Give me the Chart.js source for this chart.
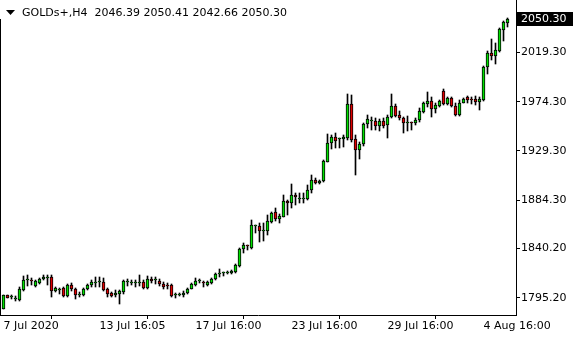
<!DOCTYPE html>
<html>
<head>
<meta charset="utf-8">
<script src="https://cdn.jsdelivr.net/npm/chart.js@4.4.1/dist/chart.umd.min.js"></script>
<style>
  html, body { margin: 0; padding: 0; background: #fff; }
</style>
</head>
<body>
<canvas id="grafico" width="580" height="340"></canvas>
<script>
const simbolo = 'GOLDs+,H4';

// candles H4 (indice 0 = 7 Jul 2020)
const aberturas = [
  1785.2, 1797.3, 1795.8, 1794.3, 1792.8, 1801.9, 1811.0, 1810.6, 1806.0, 1808.9,
  1812.0, 1813.2, 1814.1, 1801.6, 1802.0, 1804.0, 1796.4, 1807.1, 1803.4, 1797.3,
  1798.0, 1803.4, 1806.5, 1809.0, 1809.5, 1809.5, 1803.4, 1799.8, 1797.3, 1798.9,
  1800.4, 1809.5, 1809.0, 1809.0, 1809.0, 1809.5, 1804.0, 1812.6, 1811.0, 1810.1,
  1808.0, 1806.5, 1807.1, 1798.0, 1798.0, 1797.3, 1799.8, 1803.4, 1807.1, 1810.7,
  1808.4, 1807.1, 1808.9, 1812.0, 1816.6, 1817.5, 1818.0, 1817.5, 1819.0, 1824.2,
  1839.4, 1843.0, 1840.3, 1861.0, 1860.7, 1856.4, 1855.9, 1864.7, 1873.5, 1866.8,
  1869.3, 1883.9, 1881.5, 1889.4, 1885.1, 1885.1, 1885.1, 1893.6, 1902.8, 1900.3,
  1902.2, 1919.5, 1936.3, 1941.8, 1939.9, 1939.9, 1940.9, 1971.9, 1940.2, 1930.2,
  1935.4, 1953.7, 1956.7, 1956.7, 1952.4, 1956.7, 1953.0, 1960.0, 1970.4, 1962.2,
  1959.1, 1955.0, 1955.5, 1954.6, 1957.6, 1965.2, 1972.2, 1975.3, 1967.4, 1970.7,
  1984.4, 1972.2, 1977.4, 1970.7, 1962.2, 1973.5, 1978.3, 1976.5, 1976.8, 1974.4,
  1975.9, 2005.7, 2019.1, 2016.1, 2021.0, 2039.9, 2046.39
];
const maximas = [
  1797.8, 1798.0, 1797.3, 1796.4, 1805.0, 1815.0, 1816.2, 1813.2, 1811.0, 1813.0,
  1816.0, 1815.6, 1815.6, 1805.0, 1804.0, 1805.0, 1808.0, 1809.0, 1804.0, 1800.0,
  1804.0, 1808.0, 1811.0, 1814.0, 1814.0, 1813.0, 1804.5, 1800.5, 1802.0, 1802.0,
  1811.0, 1812.0, 1811.5, 1811.5, 1815.6, 1811.0, 1815.0, 1814.5, 1814.0, 1812.0,
  1810.0, 1809.0, 1808.0, 1799.8, 1799.5, 1801.0, 1804.0, 1809.0, 1813.0, 1812.5,
  1810.8, 1810.5, 1813.0, 1818.0, 1821.1, 1819.0, 1819.3, 1820.5, 1826.0, 1841.0,
  1844.9, 1843.5, 1866.2, 1861.5, 1863.2, 1863.8, 1870.8, 1873.8, 1876.9, 1871.7,
  1889.1, 1884.5, 1899.1, 1890.5, 1890.6, 1890.6, 1898.2, 1907.4, 1904.3, 1903.0,
  1921.0, 1944.5, 1943.9, 1945.4, 1940.9, 1943.9, 1981.1, 1980.5, 1943.9, 1937.8,
  1954.6, 1962.2, 1960.7, 1959.1, 1958.5, 1959.1, 1962.2, 1981.1, 1972.2, 1965.8,
  1960.0, 1961.0, 1956.2, 1959.0, 1968.3, 1974.4, 1983.5, 1978.3, 1973.5, 1975.9,
  1985.6, 1978.3, 1978.3, 1972.8, 1975.9, 1977.4, 1979.5, 1978.3, 1979.5, 1978.3,
  2007.0, 2021.0, 2031.3, 2028.3, 2041.4, 2048.4, 2050.41
];
const minimas = [
  1784.5, 1794.5, 1793.7, 1792.2, 1791.9, 1801.0, 1805.9, 1806.5, 1805.0, 1808.0,
  1811.0, 1807.1, 1795.8, 1800.0, 1798.9, 1796.0, 1796.0, 1801.0, 1794.3, 1796.0,
  1797.0, 1802.0, 1805.0, 1805.0, 1805.0, 1801.0, 1795.8, 1795.5, 1796.0, 1789.7,
  1799.0, 1806.0, 1806.5, 1805.0, 1806.0, 1803.0, 1803.0, 1809.0, 1808.0, 1806.0,
  1803.0, 1803.0, 1796.0, 1794.9, 1796.5, 1796.0, 1799.0, 1803.0, 1806.0, 1809.0,
  1805.3, 1806.0, 1808.0, 1811.0, 1814.4, 1815.3, 1816.6, 1816.5, 1818.0, 1823.0,
  1835.8, 1838.8, 1840.0, 1854.6, 1846.4, 1847.3, 1852.5, 1863.2, 1865.6, 1863.8,
  1869.0, 1870.8, 1876.9, 1879.9, 1881.5, 1881.5, 1884.5, 1891.0, 1898.8, 1899.5,
  1901.3, 1918.9, 1931.1, 1931.7, 1931.7, 1933.0, 1939.3, 1937.8, 1907.4, 1922.0,
  1934.2, 1950.0, 1948.5, 1948.5, 1947.6, 1950.0, 1941.5, 1959.1, 1960.0, 1957.6,
  1945.4, 1948.0, 1948.5, 1953.0, 1956.0, 1964.0, 1969.8, 1960.0, 1963.7, 1969.8,
  1971.3, 1971.3, 1969.2, 1961.3, 1961.3, 1972.8, 1972.8, 1972.2, 1971.3, 1966.8,
  1975.3, 1999.6, 2012.4, 2008.8, 2020.0, 2030.1, 2042.66
];
const fechamentos = [
  1797.3, 1794.9, 1796.0, 1794.5, 1803.4, 1811.0, 1811.5, 1810.3, 1810.1, 1812.0,
  1814.1, 1813.4, 1801.0, 1804.0, 1802.2, 1796.4, 1807.1, 1802.8, 1798.0, 1798.9,
  1802.8, 1807.1, 1809.5, 1809.2, 1809.7, 1801.9, 1798.9, 1796.7, 1799.8, 1801.3,
  1810.4, 1809.8, 1809.2, 1809.2, 1809.2, 1804.0, 1812.6, 1810.1, 1811.2, 1808.0,
  1805.0, 1805.5, 1796.7, 1798.2, 1798.2, 1799.8, 1803.4, 1807.7, 1810.7, 1811.2,
  1808.2, 1809.3, 1812.3, 1816.9, 1816.7, 1817.6, 1818.2, 1819.6, 1825.1, 1839.7,
  1843.4, 1842.6, 1861.6, 1861.2, 1856.5, 1856.6, 1865.3, 1872.3, 1866.8, 1869.9,
  1883.6, 1881.5, 1889.1, 1886.9, 1885.3, 1885.3, 1893.6, 1902.8, 1900.3, 1902.2,
  1920.1, 1936.3, 1941.8, 1938.7, 1940.0, 1942.1, 1971.9, 1939.3, 1930.2, 1935.4,
  1953.7, 1958.2, 1956.8, 1952.4, 1956.7, 1952.4, 1960.0, 1970.4, 1961.6, 1959.1,
  1954.6, 1956.0, 1955.2, 1957.6, 1965.8, 1972.8, 1975.3, 1967.4, 1971.3, 1975.3,
  1972.2, 1977.4, 1970.4, 1962.2, 1973.5, 1976.8, 1975.9, 1976.3, 1974.4, 1976.5,
  2006.4, 2019.1, 2016.1, 2021.6, 2040.8, 2046.9, 2050.30
];

const xTicksIndice = [0, 24, 48, 72, 96, 120];
const xTicksTexto = ['7 Jul 2020', '13 Jul 16:05', '17 Jul 16:00', '23 Jul 16:00', '29 Jul 16:00', '4 Aug 16:00'];
const yTicks = [1795.20, 1840.20, 1884.30, 1929.30, 1974.30, 2019.30];

const VERDE = '#00e000';
const VERMELHO = '#e00000';
const fonte = { family: 'DejaVu Sans', size: 11 };

const corpos = aberturas.map((o, i) => ({ x: i, y: [o, fechamentos[i]] }));
const pavios = maximas.map((h, i) => ({ x: i, y: [minimas[i], h] }));
const coresCorpo = aberturas.map((o, i) => fechamentos[i] >= o ? VERDE : VERMELHO);

// deixa os retangulos das barras no pixel inteiro, como no terminal
const arredondar = {
    id: 'arredondar',
    beforeDatasetsDraw(chart) {
        chart.data.datasets.forEach((ds, k) => {
            chart.getDatasetMeta(k).data.forEach(el => {
                el.y = Math.round(el.y);
                el.base = Math.round(el.base);
            });
        });
    }
};

const cabecalho = {
    id: 'cabecalho',
    afterDraw(chart) {
        const ctx = chart.ctx;
        const area = chart.chartArea;
        const n = fechamentos.length - 1;
        ctx.save();

        ctx.strokeStyle = '#000';
        ctx.lineWidth = 1;
        ctx.beginPath();
        ctx.moveTo(area.left + 0.5, 19);
        ctx.lineTo(area.left + 0.5, area.bottom);
        ctx.stroke();

        ctx.fillStyle = '#000';
        ctx.beginPath();
        ctx.moveTo(6, 10);
        ctx.lineTo(15, 10);
        ctx.lineTo(10.5, 15);
        ctx.closePath();
        ctx.fill();

        ctx.font = '11px "DejaVu Sans"';
        ctx.textBaseline = 'middle';
        const txt = simbolo + '  ' + [aberturas[n], maximas[n], minimas[n], fechamentos[n]].map(v => v.toFixed(2)).join(' ');
        ctx.fillText(txt, 22, 13);

        // etiqueta do preco atual
        const py = Math.round(chart.scales.y.getPixelForValue(fechamentos[n]));
        ctx.fillRect(area.right + 1, py - 7, 56, 14);
        ctx.fillStyle = '#fff';
        ctx.fillText(fechamentos[n].toFixed(2), area.right + 5, py + 0.5);
        ctx.restore();
    }
};

new Chart(document.getElementById('grafico').getContext('2d'), {
    type: 'bar',
    data: {
        datasets: [
            {
                data: corpos,
                backgroundColor: coresCorpo,
                borderColor: '#000',
                borderWidth: 1,
                borderSkipped: false,
                barThickness: 3,
                minBarLength: 1,
                grouped: false
            },
            {
                data: pavios,
                backgroundColor: '#000',
                borderWidth: 0,
                barThickness: 1,
                grouped: false
            }
        ]
    },
    options: {
        responsive: false,
        animation: false,
        layout: { padding: 0 },
        plugins: {
            legend: { display: false },
            tooltip: { enabled: false },
            title: { display: false }
        },
        scales: {
            x: {
                type: 'linear',
                min: -0.875,
                max: 128.125,
                offset: false,
                afterBuildTicks: s => { s.ticks = xTicksIndice.map(v => ({ value: v })); },
                afterFit: s => { s.height = 25; s.paddingLeft = 0; s.paddingRight = 0; },
                ticks: {
                    autoSkip: false,
                    maxRotation: 0,
                    align: 'start',
                    padding: 1,
                    color: '#000',
                    font: fonte,
                    callback: (v, i) => xTicksTexto[i]
                },
                grid: { drawOnChartArea: false, drawTicks: true, tickLength: 4, color: '#000' },
                border: { display: true, color: '#000', width: 1 }
            },
            y: {
                position: 'right',
                min: 1779.39,
                max: 2067.27,
                afterBuildTicks: s => { s.ticks = yTicks.map(v => ({ value: v })); },
                afterFit: s => { s.width = 64; s.paddingTop = 0; s.paddingBottom = 0; },
                ticks: {
                    autoSkip: false,
                    padding: 1,
                    color: '#000',
                    font: fonte,
                    callback: v => v.toFixed(2)
                },
                grid: { drawOnChartArea: false, drawTicks: true, tickLength: 4, color: '#000' },
                border: { display: true, color: '#000', width: 1 }
            }
        }
    },
    plugins: [arredondar, cabecalho]
});
</script>
</body>
</html>
